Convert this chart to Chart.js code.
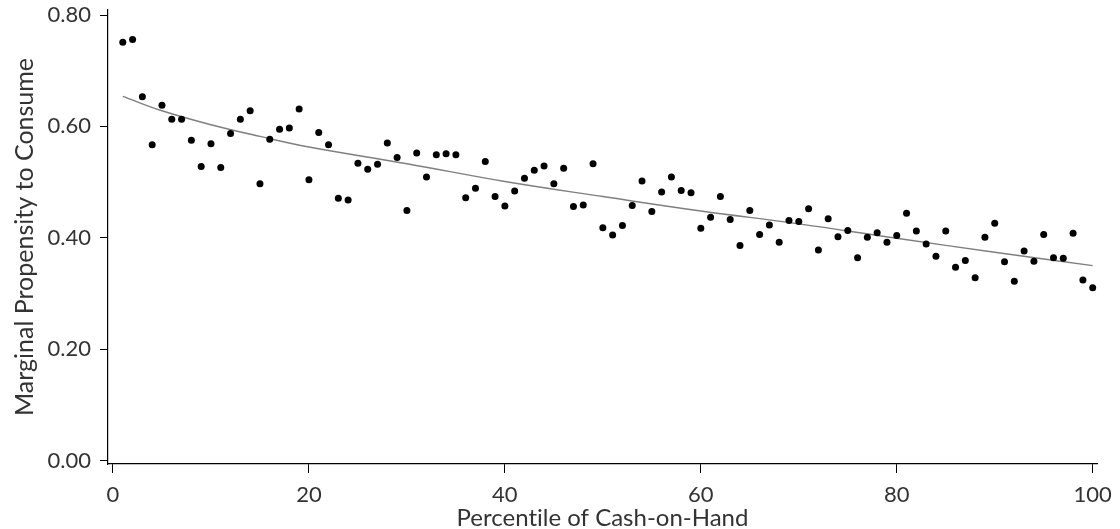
<!DOCTYPE html>
<html>
<head>
<meta charset="utf-8">
<script src="https://cdn.jsdelivr.net/npm/chart.js@4/dist/chart.umd.min.js"></script>
<style>
  html, body { margin: 0; padding: 0; background: #fff; }
  #wrap { width: 1120px; height: 529px; position: relative; }
</style>
</head>
<body>
<div id="wrap"><canvas id="c"></canvas></div>
<script>
// Percentile of cash-on-hand (x) and estimated MPC (y)
const percentiles = [
  1,2,3,4,5,6,7,8,9,10,11,12,13,14,15,16,17,18,19,20,
  21,22,23,24,25,26,27,28,29,30,31,32,33,34,35,36,37,38,39,40,
  41,42,43,44,45,46,47,48,49,50,51,52,53,54,55,56,57,58,59,60,
  61,62,63,64,65,66,67,68,69,70,71,72,73,74,75,76,77,78,79,80,
  81,82,83,84,85,86,87,88,89,90,91,92,93,94,95,96,97,98,99,100
];
const mpc = [
  0.751,0.756,0.653,0.567,0.638,0.613,0.613,0.575,0.528,0.569,
  0.526,0.587,0.613,0.628,0.497,0.577,0.595,0.597,0.631,0.504,
  0.589,0.567,0.471,0.468,0.534,0.523,0.532,0.570,0.544,0.449,
  0.552,0.509,0.549,0.551,0.549,0.472,0.489,0.537,0.474,0.457,
  0.484,0.507,0.521,0.529,0.497,0.525,0.456,0.459,0.533,0.418,
  0.405,0.422,0.458,0.502,0.447,0.482,0.509,0.485,0.481,0.417,
  0.437,0.474,0.433,0.386,0.449,0.406,0.423,0.392,0.431,0.429,
  0.452,0.378,0.434,0.402,0.413,0.364,0.401,0.409,0.392,0.404,
  0.444,0.412,0.389,0.367,0.412,0.347,0.359,0.328,0.401,0.426,
  0.357,0.322,0.376,0.358,0.406,0.364,0.363,0.408,0.324,0.310
];

// Fitted curve, sampled along the percentile range
const fitX = [1,5,10,15,20,30,40,50,60,70,80,90,100];
const fitY = [0.654,0.628,0.603,0.582,0.563,0.533,0.501,0.474,0.448,0.425,0.399,0.374,0.350];

// Axis tick labels
const xTicks = [0,20,40,60,80,100];
const yTicks = [0,0.2,0.4,0.6,0.8];

// A zero-width non-joiner keeps Lato from fusing "ti" into a ligature
const xTitle = 'Percent\u200Cile of Cash-on-Hand';
const yTitle = 'Marginal Propensity to Consume';

const FONT = 'Lato, "Open Sans", sans-serif';
const TEXT = '#333333';

const scatterPts = percentiles.map((p, i) => ({ x: p, y: mpc[i] }));
const fitPts = fitX.map((p, i) => ({ x: p, y: fitY[i] }));

new Chart(document.getElementById('c'), {
  type: 'scatter',
  data: {
    datasets: [
      {
        label: 'MPC',
        data: scatterPts,
        backgroundColor: '#000000',
        borderColor: '#000000',
        pointRadius: 3.5,
        pointBorderWidth: 0,
        order: 0
      },
      {
        label: 'Fit',
        data: fitPts,
        type: 'line',
        showLine: true,
        borderColor: '#7f7f7f',
        borderWidth: 1.4,
        pointRadius: 0,
        fill: false,
        tension: 0.4,
        order: 1
      }
    ]
  },
  options: {
    responsive: true,
    maintainAspectRatio: false,
    animation: false,
    layout: { padding: { top: 10, right: 23, left: 0, bottom: 0 } },
    plugins: {
      legend: { display: false },
      tooltip: { enabled: false }
    },
    scales: {
      x: {
        type: 'linear',
        min: -0.51,
        max: 100.44,
        afterBuildTicks: (s) => { s.ticks = xTicks.map(v => ({ value: v })); },
        afterFit: (s) => { s.height = 65; s.paddingLeft = 0; s.paddingRight = 0; },
        grid: {
          drawOnChartArea: false,
          drawTicks: true,
          tickLength: 9,
          tickColor: '#000000',
          tickWidth: 1
        },
        border: { display: true, color: '#000000', width: 1.2 },
        ticks: {
          padding: 9,
          color: TEXT,
          font: { family: FONT, size: 22, weight: '400' },
          maxRotation: 0,
          callback: (v) => String(v)
        },
        title: {
          display: true,
          text: xTitle,
          color: TEXT,
          font: { family: FONT, size: 24, weight: '400' },
          padding: { top: 0, bottom: -4 }
        }
      },
      y: {
        type: 'linear',
        min: -0.0063,
        max: 0.809,
        afterBuildTicks: (s) => { s.ticks = yTicks.map(v => ({ value: v })); },
        afterFit: (s) => { s.width = 108; s.paddingTop = 0; s.paddingBottom = 0; },
        grid: {
          drawOnChartArea: false,
          drawTicks: true,
          tickLength: 8,
          tickColor: '#000000',
          tickWidth: 1
        },
        border: { display: true, color: '#000000', width: 1.2 },
        ticks: {
          padding: 9,
          color: TEXT,
          font: { family: FONT, size: 22, weight: '400' },
          callback: (v) => Number(v).toFixed(2)
        },
        title: {
          display: true,
          text: yTitle,
          color: TEXT,
          font: { family: FONT, size: 25, weight: '400' },
          padding: { top: 10, bottom: 0 }
        }
      }
    }
  }
});
</script>
</body>
</html>
